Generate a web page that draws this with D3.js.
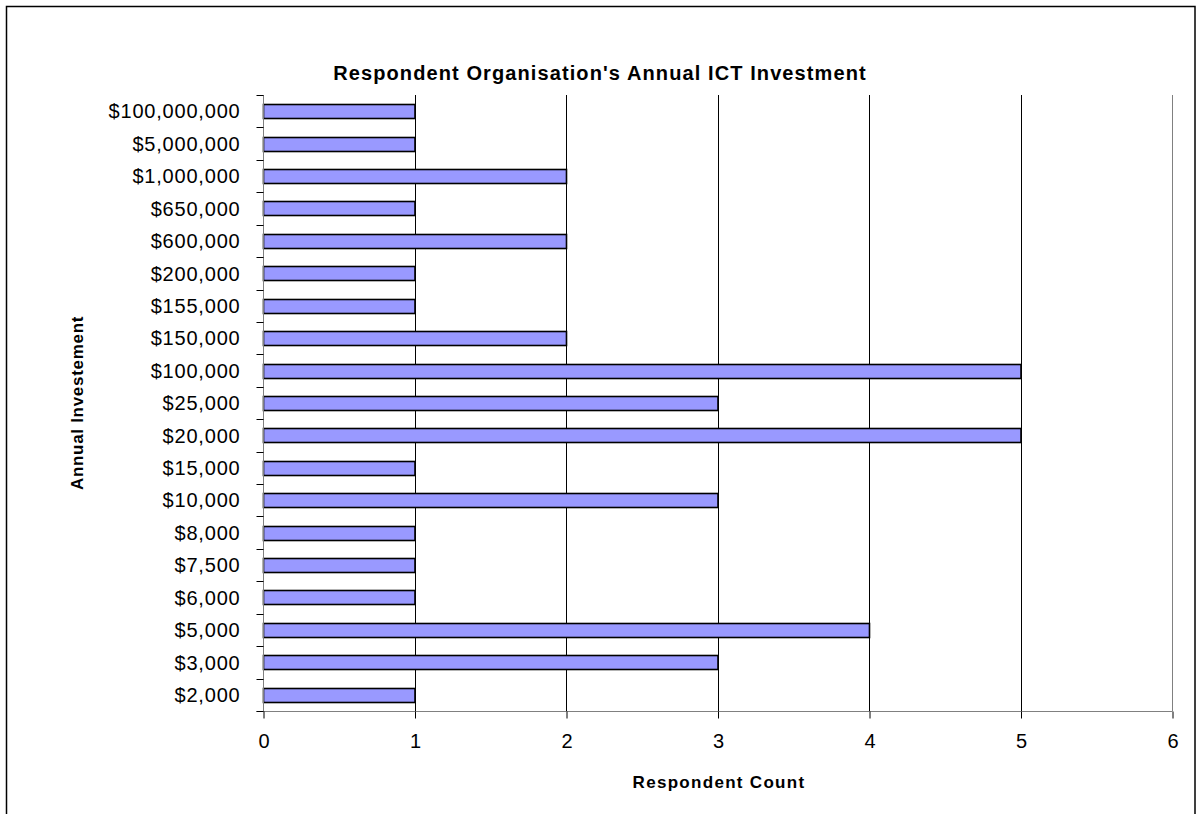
<!DOCTYPE html>
<html>
<head>
<meta charset="utf-8">
<script src="https://cdn.jsdelivr.net/npm/d3@7"></script>
<style>
  html, body { margin: 0; padding: 0; background: #fff; }
  svg { display: block; }
</style>
</head>
<body>
<svg id="chart" width="1196" height="814"></svg>
<script>
// Investment brackets, top to bottom as drawn
const categories = [
  "$100,000,000", "$5,000,000", "$1,000,000", "$650,000", "$600,000",
  "$200,000", "$155,000", "$150,000", "$100,000", "$25,000", "$20,000",
  "$15,000", "$10,000", "$8,000", "$7,500", "$6,000", "$5,000", "$3,000", "$2,000"
];
// Number of respondents in each bracket
const counts = [1, 1, 2, 1, 2, 1, 1, 2, 5, 3, 5, 1, 3, 1, 1, 1, 4, 3, 1];
const xTicks = [0, 1, 2, 3, 4, 5, 6];

const svg = d3.select("#chart");
const plot = { left: 263, right: 1172, top: 95, bottom: 711 };
const FONT = "Liberation Sans, Arial, sans-serif";

// Outer chart border
svg.append("rect")
  .attr("x", 6.5).attr("y", 6.5)
  .attr("width", 1188.5).attr("height", 820)
  .attr("fill", "#fff").attr("stroke", "#000").attr("stroke-width", 1.5);

const x = d3.scaleLinear().domain([0, 6]).range([plot.left, plot.right]);
const y = d3.scaleBand().domain(categories).range([plot.top, plot.bottom])
  .paddingInner(0.565).paddingOuter(0.2825);

// Vertical gridlines
svg.append("g")
  .selectAll("line")
  .data(xTicks.slice(1))
  .join("line")
  .attr("x1", d => Math.round(x(d)) + 0.5).attr("x2", d => Math.round(x(d)) + 0.5)
  .attr("y1", plot.top).attr("y2", plot.bottom)
  .attr("stroke", d => d === 6 ? "#808080" : "#000")
  .attr("stroke-width", 1);

// Bars
svg.append("g")
  .selectAll("rect")
  .data(categories.map((c, i) => ({ c, v: counts[i] })))
  .join("rect")
  .attr("x", x(0) + 0.5)
  .attr("y", d => Math.round(y(d.c)) + 0.5)
  .attr("width", d => x(d.v) - x(0))
  .attr("height", Math.round(y.bandwidth()))
  .attr("fill", "#9999ff")
  .attr("stroke", "#000")
  .attr("stroke-width", 1.6);

// X axis
const xAxis = d3.axisBottom(x).tickValues(xTicks).tickFormat(d3.format("d"))
  .tickSize(7).tickSizeOuter(0).tickPadding(15);
const gx = svg.append("g")
  .attr("transform", `translate(0.5,${plot.bottom + 0.5})`)
  .call(xAxis);
gx.select(".domain").attr("stroke", "#808080").attr("d", `M${plot.left - 7},0H${plot.right}`);
gx.selectAll(".tick line").attr("stroke", "#000");
gx.selectAll(".tick text")
  .attr("font-family", FONT)
  .attr("font-size", 20).attr("fill", "#000");

// Y axis: ticks sit between categories
const gy = svg.append("g").attr("transform", `translate(${plot.left + 0.5},0)`);
gy.append("line")
  .attr("x1", 0).attr("x2", 0)
  .attr("y1", plot.top).attr("y2", plot.bottom)
  .attr("stroke", "#808080");
const boundaries = d3.range(categories.length + 1)
  .map(i => plot.top + i * (plot.bottom - plot.top) / categories.length);
gy.selectAll("line.tk")
  .data(boundaries)
  .join("line")
  .attr("class", "tk")
  .attr("x1", -7).attr("x2", 0)
  .attr("y1", d => Math.round(d) + 0.5).attr("y2", d => Math.round(d) + 0.5)
  .attr("stroke", "#000");
gy.selectAll("text")
  .data(categories)
  .join("text")
  .attr("x", -23)
  .attr("y", d => y(d) + y.bandwidth() / 2)
  .attr("dy", "0.36em")
  .attr("text-anchor", "end")
  .attr("font-family", FONT)
  .attr("font-size", 20)
  .attr("letter-spacing", 0.8)
  .attr("fill", "#000")
  .text(d => d);

// Title
svg.append("text")
  .attr("x", 600).attr("y", 80)
  .attr("text-anchor", "middle")
  .attr("font-family", FONT)
  .attr("font-weight", "bold")
  .attr("font-size", 20)
  .attr("letter-spacing", 1.1)
  .text("Respondent Organisation's Annual ICT Investment");

// Axis titles
svg.append("text")
  .attr("x", 719).attr("y", 788)
  .attr("text-anchor", "middle")
  .attr("font-family", FONT)
  .attr("font-weight", "bold")
  .attr("font-size", 17)
  .attr("letter-spacing", 1.3)
  .text("Respondent Count");

svg.append("text")
  .attr("transform", `translate(83,${(plot.top + plot.bottom) / 2}) rotate(-90)`)
  .attr("text-anchor", "middle")
  .attr("font-family", FONT)
  .attr("font-weight", "bold")
  .attr("font-size", 17)
  .attr("letter-spacing", 0.7)
  .text("Annual Investement");
</script>
</body>
</html>
